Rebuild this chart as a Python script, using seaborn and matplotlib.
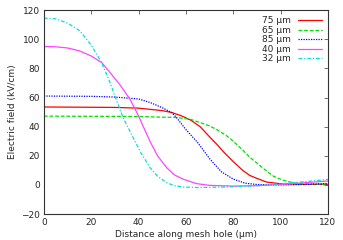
import numpy as np
import pandas as pd
import seaborn as sns
import matplotlib
matplotlib.use('Agg')
import matplotlib.pyplot as plt

# valores (distancia em um, campo em kV/cm)
x_75 = [0, 30, 40, 50, 54, 58, 62, 66, 70, 73, 76, 80, 84, 87, 90, 94, 100, 110, 120]
e_75 = [53.5, 53.2, 52.7, 51, 49.7, 47.5, 44.5, 40, 33, 28, 22.5, 16, 10, 6.5, 4.5, 2, 0.8, 0.4, 0.4]

x_65 = [0, 40, 50, 56, 62, 66, 70, 73, 77, 80, 84, 87, 90, 94, 97, 101, 105, 108, 115, 120]
e_65 = [47.2, 47, 46.5, 46.3, 45, 42.8, 40.5, 38, 34, 30, 24, 19, 15, 9.6, 6, 3.2, 1.7, 0.9, 0.5, 0.5]

x_85 = [0, 20, 30, 40, 45, 50, 54, 56, 60, 65, 70, 75, 80, 85, 90, 100, 110, 120]
e_85 = [61, 60.8, 60.3, 59, 56.5, 53, 49.7, 46.3, 38, 29, 18, 9, 4, 1.2, 0.3, 0, 0.3, 1]

x_40 = [0, 5, 10, 15, 20, 24.4, 28, 32, 36.3, 39.5, 44.8, 48, 51.8, 55, 58.9, 64.5, 70, 80, 90, 100, 110, 120]
e_40 = [95, 94.8, 94, 92, 88.5, 84, 77, 69, 59, 49, 30, 20, 12, 7, 3.9, 0.9, -0.3, -0.8, -0.5, 0.3, 1.5, 2.7]

x_32 = [0, 5, 10, 15, 20, 24.4, 28, 30.7, 33.5, 37.7, 41, 44.8, 48, 51.8, 55, 59, 65, 75, 85, 95, 105, 112, 120]
e_32 = [114.5, 114, 111, 106, 96, 84, 70, 58, 46, 32.5, 22, 12, 6, 1.6, -0.5, -1.4, -1.8, -1.5, -1, 0, 1.5, 2.5, 3.8]

series = [
    ('75 µm', x_75, e_75, '#ff0000', '-'),
    ('65 µm', x_65, e_65, '#00e000', (0, (3, 1.5))),
    ('85 µm', x_85, e_85, '#0000ff', (0, (1, 1))),
    ('40 µm', x_40, e_40, '#ff44ff', '-'),
    ('32 µm', x_32, e_32, '#00e0e0', (0, (3, 1.5, 1, 1.5))),
]

sns.set_style('white')
plt.rcParams['font.family'] = ['DejaVu Sans']

fig = plt.figure(figsize=(3.43, 2.40), dpi=100)
ax = fig.add_axes([0.128, 0.108, 0.828, 0.85])

for nome, xs, ys, cor, estilo in series:
    df = pd.DataFrame({'x': xs, 'y': ys})
    sns.lineplot(data=df, x='x', y='y', color=cor, linestyle=estilo, linewidth=0.9, label=nome, ax=ax)

ax.set_xlim(0, 120)
ax.set_ylim(-20, 120)
ax.set_xticks(np.arange(0, 121, 20))
ax.set_yticks(np.arange(-20, 121, 20))
ax.tick_params(direction='in', length=3, width=0.6, labelsize=6.5, top=True, right=True,
               color='#555555', pad=3)
for s in ax.spines.values():
    s.set_color('#333333')
    s.set_linewidth(0.8)
ax.set_xlabel('Distance along mesh hole (µm)', fontsize=6.5, labelpad=2)
ax.set_ylabel('Electric field (kV/cm)', fontsize=6.5, labelpad=3)

leg = ax.legend(loc='upper right', frameon=False, fontsize=6.5, markerfirst=False,
                handlelength=2.6, labelspacing=0.05, borderaxespad=0.3, handletextpad=0.8)

fig.savefig('out.png', dpi=100)
